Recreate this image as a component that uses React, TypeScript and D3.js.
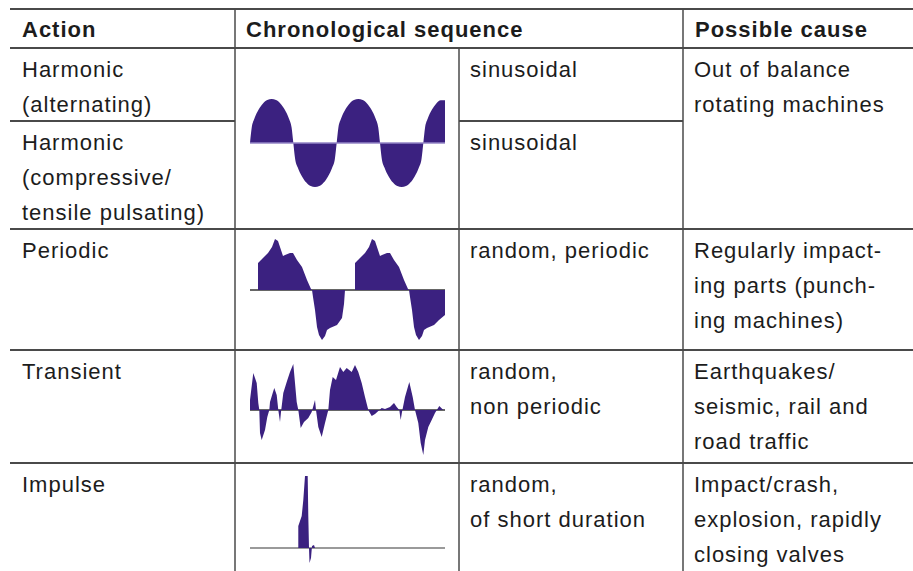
import * as d3 from "d3";

const W = 913;
const H = 571;

const FONT = "'Liberation Sans', Arial, Helvetica, sans-serif";
const INK = "#1c1c1c";
const RULE = "#4a4a4a";
const WAVE = "#3b2180";

// column edges and text insets
const COL_ACTION = 10;
const COL_WAVE = 235;
const COL_SEQ = 459;
const COL_CAUSE = 683;
const TABLE_TOP = 9;
const LINE = 35; // line spacing
const FIRST = 28.5; // first baseline below the row rule

// table text
const HEADERS = ["Action", "Chronological sequence", "Possible cause"];
const ACTIONS = [
  ["Harmonic", "(alternating)"],
  ["Harmonic", "(compressive/", "tensile pulsating)"],
  ["Periodic"],
  ["Transient"],
  ["Impulse"],
];
const SEQUENCES = [
  ["sinusoidal"],
  ["sinusoidal"],
  ["random, periodic"],
  ["random,", "non periodic"],
  ["random,", "of short duration"],
];
const CAUSES = [
  ["Out of balance", "rotating machines"],
  ["Regularly impact-", "ing parts (punch-", "ing machines)"],
  ["Earthquakes/", "seismic, rail and", "road traffic"],
  ["Impact/crash,", "explosion, rapidly", "closing valves"],
];
const CAUSE_ROW = [0, 2, 3, 4]; // first harmonic cause spans two rows

// rule above each body row
const ROW_TOPS = [48, 121, 229, 350, 463];

// waveforms: [time, amplitude]
// harmonic: time in half-cycles, amplitude normalised
const SINE: [number, number][] = [
  [0, 0], [0.04, 0.35], [0.1, 0.55], [0.2, 0.76], [0.3, 0.9], [0.4, 0.98], [0.5, 1],
  [0.6, 0.98], [0.7, 0.9], [0.8, 0.76], [0.9, 0.55], [0.96, 0.35], [1, 0],
  [1.04, -0.35], [1.1, -0.55], [1.2, -0.76], [1.3, -0.9], [1.4, -0.98], [1.5, -1],
  [1.6, -0.98], [1.7, -0.9], [1.8, -0.76], [1.9, -0.55], [1.96, -0.35], [2, 0],
  [2.04, 0.35], [2.1, 0.55], [2.2, 0.76], [2.3, 0.9], [2.4, 0.98], [2.5, 1],
  [2.6, 0.98], [2.7, 0.9], [2.8, 0.76], [2.9, 0.55], [2.96, 0.35], [3, 0],
  [3.04, -0.35], [3.1, -0.55], [3.2, -0.76], [3.3, -0.9], [3.4, -0.98], [3.5, -1],
  [3.6, -0.98], [3.7, -0.9], [3.8, -0.76], [3.9, -0.55], [3.96, -0.35], [4, 0],
  [4.04, 0.35], [4.1, 0.55], [4.2, 0.76], [4.3, 0.9], [4.4, 0.97], [4.5, 0.97],
];
// the other three: time 0..195, amplitude in raw units
const PERIODIC: [number, number][] = [
  [0, 0], [8, 0], [8, 27], [13, 32], [18, 37], [22, 43], [25, 51], [28, 49], [33, 34],
  [35, 35], [40, 37], [43, 37], [47, 30], [52, 23], [57, 10], [61, 1], [62, 0],
  [63, -7], [65, -20], [67, -37], [69, -45], [72, -50], [75, -46], [77, -40], [80, -38],
  [87, -35], [92, -28], [94, -14], [95, 0], [105, 0],
  [105, 27], [110, 32], [115, 37], [119, 43], [122, 51], [125, 49], [130, 34],
  [132, 35], [137, 37], [140, 37], [144, 30], [149, 23], [154, 10], [158, 1], [159, 0],
  [160, -7], [162, -20], [164, -37], [166, -45], [169, -50], [172, -46], [174, -40],
  [177, -38], [184, -35], [189, -30], [195, -25],
];
const TRANSIENT: [number, number][] = [
  [0, 0], [0, 10], [3.3, 37], [6.7, 27], [8.3, 7], [9.3, 0], [10, -23], [11.7, -30],
  [15, -20], [17.3, -7], [19.3, 0], [20, 8], [22.7, 17], [24.3, 22], [26.7, 15],
  [28.3, 0], [30, -12], [31, -2], [33.3, 17], [36.7, 28], [40, 38], [43.3, 46],
  [45, 27], [46.7, 8], [48.3, 0], [50.7, -18], [54, -12], [58.3, -8], [61.7, -2],
  [65, 10], [66, 0], [68.3, -17], [71.7, -27], [75, -13], [78.3, 0], [80, 20],
  [82.7, 33], [86, 30], [90, 43], [93.3, 38], [96.7, 42], [101.7, 38], [105, 45],
  [108.3, 38], [111.7, 27], [115, 13], [118.3, 0], [121.7, -6], [125, -4],
  [128.3, -1], [131.7, 2], [135, 1], [140, 3], [144, 7], [146.7, 3], [149.3, 0],
  [150.7, -10], [152, -2], [155, 13], [159.3, 28], [162.7, 13], [165, 0],
  [168.3, -13], [170.7, -33], [173.3, -45], [175, -30], [178.3, -17], [181.7, -10],
  [185, -3], [189.3, 4], [193.3, 0], [195, 0],
];
const IMPULSE: [number, number][] = [
  [0, 0], [48.3, 0], [48.3, 22], [50, 27], [51.7, 32], [53.3, 48], [55, 72],
  [57.7, 72], [58.3, 32], [59, 0], [59.5, -15], [61, -10], [62, 2], [64, 3],
  [65, 0], [195, 0],
];

const WAVE_X0 = 250;
const WAVE_X1 = 445;

function Wave({
  data,
  base,
  domain,
  span,
  half,
  axis,
  axisWidth,
  axisOnTop = false,
  curve = d3.curveLinear,
}: {
  data: [number, number][];
  base: number; // y of the zero line
  domain: [number, number];
  span: number; // amplitude that maps to `half` px
  half: number;
  axis: string;
  axisWidth: number;
  axisOnTop?: boolean;
  curve?: d3.CurveFactory;
}) {
  const x = d3.scaleLinear().domain(domain).range([WAVE_X0, WAVE_X1]);
  const y = d3.scaleLinear().domain([-span, span]).range([base + half, base - half]);
  const area = d3
    .area<[number, number]>()
    .x((d) => x(d[0]))
    .y0(y(0))
    .y1((d) => y(d[1]))
    .curve(curve);
  const zero = (
    <line x1={WAVE_X0} x2={WAVE_X1} y1={y(0)} y2={y(0)} stroke={axis} strokeWidth={axisWidth} />
  );
  return (
    <g>
      {!axisOnTop && zero}
      <path d={area(data) ?? ""} fill={WAVE} />
      {axisOnTop && zero}
    </g>
  );
}

function Cell({ x, top, lines, bold }: { x: number; top: number; lines: string[]; bold?: boolean }) {
  return (
    <text fontFamily={FONT} fontSize={22} letterSpacing={1} fontWeight={bold ? 700 : 400} fill={INK}>
      {lines.map((l, i) => (
        <tspan key={i} x={x} y={top + FIRST + i * LINE}>
          {l}
        </tspan>
      ))}
    </text>
  );
}

export default function App() {
  return (
    <svg width={W} height={H} style={{ position: "absolute", left: 0, top: 0, background: "#fff" }}>
      {/* waveforms */}
      <Wave data={SINE} base={143} domain={[0, 4.5]} span={1} half={44} axis="#9385c6" axisWidth={1.5} axisOnTop curve={d3.curveMonotoneX} />
      <Wave data={PERIODIC} base={290} domain={[0, 195]} span={60} half={60} axis="#333" axisWidth={1.5} />
      <Wave data={TRANSIENT} base={410} domain={[0, 195]} span={60} half={60} axis="#333" axisWidth={1.5} />
      <Wave data={IMPULSE} base={548} domain={[0, 195]} span={60} half={60} axis="#9a9a9a" axisWidth={2} />

      {/* rules */}
      <g stroke={RULE}>
        <line x1={COL_ACTION} x2={W} y1={TABLE_TOP} y2={TABLE_TOP} strokeWidth={2} />
        {ROW_TOPS.map((t, i) =>
          i === 1 ? (
            // split inside the harmonic group: not through the image or cause cells
            <g key={i}>
              <line x1={COL_ACTION} x2={COL_WAVE} y1={t} y2={t} strokeWidth={2} />
              <line x1={COL_SEQ} x2={COL_CAUSE} y1={t} y2={t} strokeWidth={2} />
            </g>
          ) : (
            <line key={i} x1={COL_ACTION} x2={W} y1={t} y2={t} strokeWidth={2} />
          ),
        )}
        <line x1={COL_WAVE} x2={COL_WAVE} y1={TABLE_TOP} y2={H} strokeWidth={1.5} />
        <line x1={COL_SEQ} x2={COL_SEQ} y1={ROW_TOPS[0]} y2={H} strokeWidth={1.5} />
        <line x1={COL_CAUSE} x2={COL_CAUSE} y1={TABLE_TOP} y2={H} strokeWidth={1.5} />
      </g>

      {/* header */}
      <Cell x={COL_ACTION + 12} top={TABLE_TOP - 1} lines={[HEADERS[0]]} bold />
      <Cell x={COL_WAVE + 11} top={TABLE_TOP - 1} lines={[HEADERS[1]]} bold />
      <Cell x={COL_CAUSE + 12} top={TABLE_TOP - 1} lines={[HEADERS[2]]} bold />

      {/* body */}
      {ACTIONS.map((a, i) => (
        <Cell key={`a${i}`} x={COL_ACTION + 12} top={ROW_TOPS[i]} lines={a} />
      ))}
      {SEQUENCES.map((s, i) => (
        <Cell key={`s${i}`} x={COL_SEQ + 11} top={ROW_TOPS[i]} lines={s} />
      ))}
      {CAUSES.map((c, i) => (
        <Cell key={`c${i}`} x={COL_CAUSE + 11} top={ROW_TOPS[CAUSE_ROW[i]]} lines={c} />
      ))}
    </svg>
  );
}
